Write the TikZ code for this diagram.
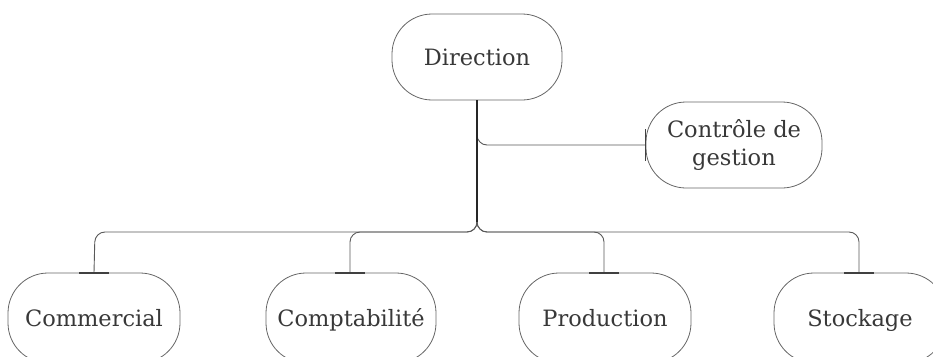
\documentclass[tikz,border=0pt]{standalone}
\usepackage{fontspec}
\setmainfont{DejaVu Serif}
\begin{document}
\begin{tikzpicture}[x=1pt,y=-1pt,
  box/.style={draw=black!60, line width=0.8pt, rounded corners=40pt, align=center,
    font=\fontsize{22.5}{27.4}\selectfont, text=black!78, inner sep=0pt},
  one/.style={text height=19pt, text depth=2pt},
  link/.style={draw=black!65, line width=0.9pt, rounded corners=10pt},
  stem/.style={draw=black!85, line width=1.3pt, rounded corners=10pt},
  tick/.style={draw=black!75, line width=1.4pt}]
\useasboundingbox (0,0) rectangle (933,356);
\node[box, one, minimum width=170pt, minimum height=86pt] (dir) at (477,57) {Direction};
\node[box, minimum width=176pt, minimum height=86pt] (ctl) at (734,145) {Contrôle de\\gestion};
\node[box, one, minimum width=172pt, minimum height=90pt] (com) at (94,318) {Commercial};
\node[box, one, minimum width=170pt, minimum height=90pt] (cpt) at (351,318) {Comptabilité};
\node[box, one, minimum width=172pt, minimum height=90pt] (pro) at (605,318) {Production};
\node[box, one, minimum width=172pt, minimum height=90pt] (sto) at (860,318) {Stockage};
\coordinate (bus) at (477,222);
% bus and stems
\draw[link] (bus) |- (95,232) -- (com.north);
\draw[link] (bus) |- (350,232) -- (cpt.north -| 350,0);
\draw[link] (bus) |- (604,232) -- (pro.north -| 604,0);
\draw[link] (bus) |- (859,232) -- (sto.north -| 859,0);
\draw[link] (477,130) |- (ctl.west);
\draw[stem] (dir.south) -- (bus);
% ticks
\draw[tick] (ctl.west) ++(0,-16) -- ++(0,32);
\draw[tick] (com.north) ++(-15,0.5) -- ++(30,0);
\draw[tick] (cpt.north) ++(-16,0.5) -- ++(30,0);
\draw[tick] (pro.north) ++(-16,0.5) -- ++(30,0);
\draw[tick] (sto.north) ++(-16,0.5) -- ++(30,0);
\end{tikzpicture}
\end{document}
